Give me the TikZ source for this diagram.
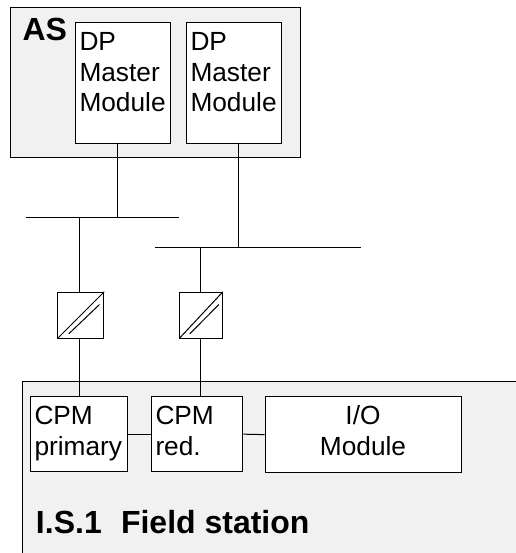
\documentclass[tikz,border=0pt]{standalone}
\usepackage{fontspec}
\setmainfont{Liberation Sans}
\usepackage{tikz}
\usetikzlibrary{positioning,calc}
\definecolor{stationgray}{gray}{0.945}
\tikzset{
  module/.style={draw,fill=white,inner sep=0pt,anchor=north west},
  caption/.style={inner sep=0pt,anchor=base west,font=\fontsize{24}{28}\selectfont\bfseries},
  textline/.style={inner sep=0pt,anchor=base west,font=\fontsize{19.7}{24}\selectfont},
  station/.style={draw,fill=stationgray},
  converter/.style={draw,fill=white,inner sep=0pt,minimum height=34.3pt},
}
\begin{document}
\begin{tikzpicture}[x=0.75pt,y=-0.75pt,line width=0.75pt]
\useasboundingbox (0,0) rectangle (516,553);

\draw[station] (10,7) rectangle (300,157);
\draw[station] (22,381) rectangle (530,570);

% master modules
\node[module,minimum width=71.6pt,minimum height=90.4pt] (dp1) at (74.5,22) {};
\node[module,minimum width=71.6pt,minimum height=90.4pt] (dp2) at (185.5,22) {};

% field station modules
\node[module,minimum width=73.2pt,minimum height=56.5pt] (cpm1) at (29.7,396) {};
\node[module,minimum width=68.7pt,minimum height=56.5pt] (cpm2) at (150.7,396) {};
\node[module,minimum width=147.5pt,minimum height=57.2pt] (io) at (264.7,396) {};
\draw (cpm1.east) -- (cpm2.west);
\draw (cpm2.east) -- (io.west);

% busses
\coordinate (bus1l) at (25.7,217.4);
\coordinate (bus1r) at (178.7,217.4);
\coordinate (bus2l) at (155,247.6);
\coordinate (bus2r) at (361,247.6);
\draw (bus1l) -- (bus1r);
\draw (bus2l) -- (bus2r);

% drops
\coordinate (drop1) at (117.3,142.5);
\coordinate (drop2) at (238.7,142.5);
\coordinate (link1) at (79,300);
\coordinate (link2) at (200.7,300);
\draw (drop1) -- (drop1 |- bus1l);
\draw (drop2) -- (drop2 |- bus2l);
\draw (link1 |- bus1l) -- (link1 |- cpm1.north);
\draw (link2 |- bus2l) -- (link2 |- cpm2.north);

% converters
\node[converter,minimum width=34.3pt] (conv1) at (80.8,315.2) {};
\node[converter,minimum width=32pt] (conv2) at (201,315.2) {};
\draw (conv1.south west) -- (conv1.north east);
\draw (conv2.south west) -- (conv2.north east);
\draw ($(conv1.south west)+(11.3,-4.7)$) -- ($(conv1.north east)+(-4.7,12.7)$);
\draw ($(conv2.south west)+(10.6,-4.7)$) -- ($(conv2.north east)+(-4,12.7)$);

% labels
\node[caption] (as) at (22,40.5) {AS};
\node[textline] (dp1a) at (79,50) {DP};
\node[textline] (dp1b) at (79,81) {Master};
\node[textline] (dp1c) at (79,111.5) {Module};
\node[textline] (dp2a) at (190,50) {DP};
\node[textline] (dp2b) at (190,81) {Master};
\node[textline] (dp2c) at (190,111.5) {Module};
\node[textline] (cpm1a) at (34,424) {CPM};
\node[textline] (cpm1b) at (34,455) {primary};
\node[textline] (cpm2a) at (155,424) {CPM};
\node[textline] (cpm2b) at (155,455) {red.};
\node[textline,anchor=base] (ioa) at (363,424) {I/O};
\node[textline,anchor=base] (iob) at (363,455) {Module};
\node[caption] (fs) at (35.5,533) {I.S.1\hspace{0.6em}Field station};
\end{tikzpicture}
\end{document}
